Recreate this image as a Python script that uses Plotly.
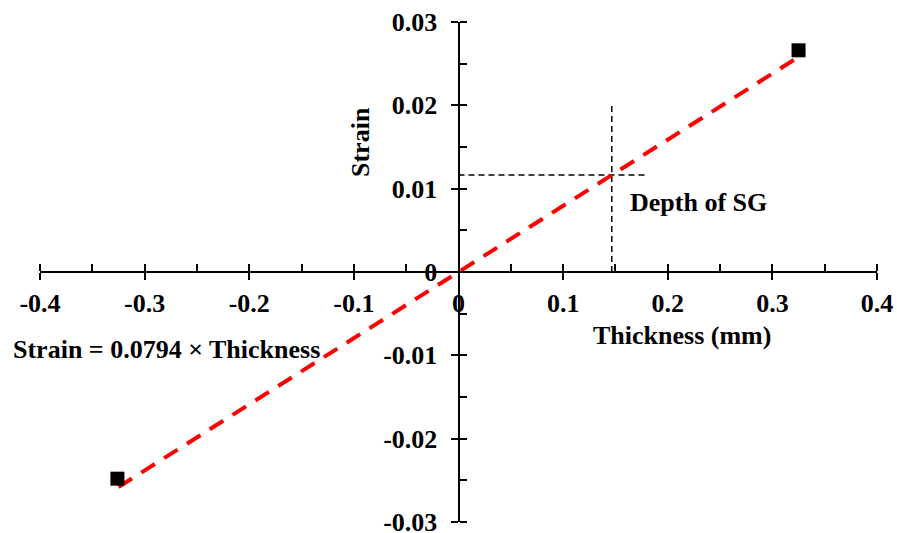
import plotly.graph_objects as go

# Data
thickness_pts = [-0.326, 0.325]
strain_pts = [-0.0248, 0.0266]
slope = 0.0794
fit_x = [-0.325, 0.325]
fit_y = [slope * v for v in fit_x]
sg_depth = 0.1465
sg_strain = slope * sg_depth
x_ticks = [-0.4, -0.3, -0.2, -0.1, 0, 0.1, 0.2, 0.3, 0.4]
y_ticks = [-0.03, -0.02, -0.01, 0, 0.01, 0.02, 0.03]
x_tick_text = ["-0.4", "-0.3", "-0.2", "-0.1", "0", "0.1", "0.2", "0.3", "0.4"]
y_tick_text = ["-0.03", "-0.02", "-0.01", "0", "0.01", "0.02", "0.03"]

FONT = "Times New Roman, Liberation Serif, serif"
FS = 26

fig = go.Figure()

# crosshair for depth of SG
fig.add_trace(go.Scatter(x=[0, 0.179], y=[sg_strain, sg_strain], mode="lines",
                         line=dict(color="black", width=1.5, dash="6px,4px"),
                         hoverinfo="skip", showlegend=False))
fig.add_trace(go.Scatter(x=[sg_depth, sg_depth], y=[0, 0.0202], mode="lines",
                         line=dict(color="black", width=1.5, dash="6px,4px"),
                         hoverinfo="skip", showlegend=False))
# fit line
fig.add_trace(go.Scatter(x=fit_x, y=fit_y, mode="lines",
                         line=dict(color="#ff0000", width=4, dash="16px,11px"),
                         showlegend=False))
# data points
fig.add_trace(go.Scatter(x=thickness_pts, y=strain_pts, mode="markers",
                         marker=dict(symbol="square", size=14, color="black"),
                         showlegend=False))

tickfont = dict(family=FONT, size=FS, color="black", weight="bold")
axis_common = dict(showgrid=False, zeroline=False, showline=True, linecolor="black",
                   linewidth=2, ticks="outside", ticklen=7, tickwidth=2, tickcolor="black",
                   tickfont=tickfont, automargin=False, ticklabeloverflow="allow")

L, R, T, B = 40, 897 - 877, 22, 533 - 522

fig.update_layout(
    width=897, height=533,
    margin=dict(l=L, r=R, t=T, b=B),
    plot_bgcolor="white", paper_bgcolor="white",
    font=dict(family=FONT, size=FS, color="black"),
    xaxis=dict(range=[-0.4, 0.4], tickvals=x_ticks, ticktext=x_tick_text,
               anchor="free", position=0.5, ticklabelstandoff=1,
               minor=dict(dtick=0.05, ticks="inside", ticklen=7, tickwidth=2, tickcolor="black"),
               **axis_common),
    yaxis=dict(range=[-0.03, 0.03], tickvals=y_ticks, ticktext=y_tick_text,
               anchor="free", position=0.5, ticklabelstandoff=8,
               minor=dict(dtick=0.005, ticks="inside", ticklen=7, tickwidth=2, tickcolor="black"),
               **axis_common),
    xaxis2=dict(range=[-0.4, 0.4], overlaying="x", anchor="free", position=0.5,
                tickvals=x_ticks, showticklabels=False, ticks="inside", ticklen=7,
                tickwidth=2, tickcolor="black", showline=False, showgrid=False,
                zeroline=False, automargin=False),
    yaxis2=dict(range=[-0.03, 0.03], overlaying="y", anchor="free", position=0.5,
                tickvals=y_ticks, showticklabels=False, ticks="inside", ticklen=7,
                tickwidth=2, tickcolor="black", showline=False, showgrid=False,
                zeroline=False, automargin=False),
)

# invisible trace to activate second axes
fig.add_trace(go.Scatter(x=[0], y=[0], xaxis="x2", yaxis="y2", mode="markers",
                         marker=dict(opacity=0), hoverinfo="skip", showlegend=False))

pw, ph = 877 - 40, 522 - 22


def px_ann(text, px, py, xanchor="center", angle=0):
    # px, py: target screen pixels in the photographed window
    fig.add_annotation(text=text, x=(px - 40) / pw, y=(522 - py) / ph,
                       xref="paper", yref="paper", xanchor=xanchor, yanchor="middle",
                       textangle=angle, showarrow=False,
                       font=dict(family=FONT, size=FS, color="black"))


px_ann("<b>Thickness (mm)</b>", 682, 335)
px_ann("<b>Strain</b>", 360, 142, angle=-90)
px_ann("<b>Depth of SG</b>", 698, 202)
px_ann("<b>Strain = 0.0794 × Thickness</b>", 11, 349, xanchor="left")

fig.write_html(
    "out.html",
    config={"displayModeBar": False},
    post_script="document.body.style.margin='0';document.body.style.overflow='hidden';",
)
